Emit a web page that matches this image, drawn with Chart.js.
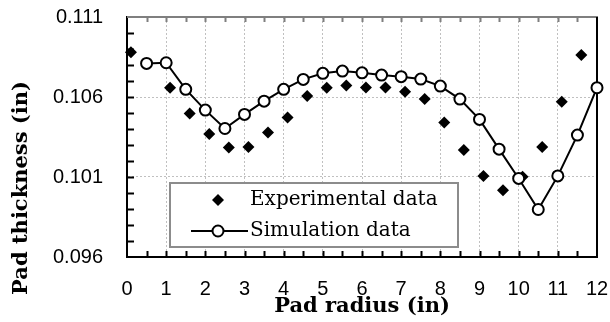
<!DOCTYPE html>
<html>
<head>
<meta charset="utf-8">
<script src="https://cdn.jsdelivr.net/npm/chart.js@4.4.1/dist/chart.umd.min.js"></script>
<style>
  html, body { margin: 0; padding: 0; background: #fff; }
  #wrap { width: 610px; height: 322px; }
</style>
</head>
<body>
<div id="wrap"><canvas id="padChart" width="610" height="322"></canvas></div>
<script>
// values
var expRadius = [0.1, 1.1, 1.6, 2.1, 2.6, 3.1, 3.6, 4.1, 4.6, 5.1, 5.6, 6.1, 6.6, 7.1, 7.6, 8.1, 8.6, 9.1, 9.6, 10.1, 10.6, 11.1, 11.6];
var expThickness = [0.10879, 0.10658, 0.10497, 0.10368, 0.10285, 0.10288, 0.10378, 0.10472, 0.10606, 0.10658, 0.10672, 0.10660, 0.10660, 0.10633, 0.10587, 0.10441, 0.10268, 0.10107, 0.10017, 0.10101, 0.10288, 0.10570, 0.10862];

var simRadius = [0.5, 1, 1.5, 2, 2.5, 3, 3.5, 4, 4.5, 5, 5.5, 6, 6.5, 7, 7.5, 8, 8.5, 9, 9.5, 10, 10.5, 11, 11.5, 12];
var simThickness = [0.10810, 0.10814, 0.10648, 0.10518, 0.10403, 0.10491, 0.10574, 0.10648, 0.10710, 0.10748, 0.10762, 0.10751, 0.10737, 0.10727, 0.10712, 0.10668, 0.10587, 0.10460, 0.10274, 0.10091, 0.09897, 0.10107, 0.10362, 0.10658];

var xTicks = [0, 1, 2, 3, 4, 5, 6, 7, 8, 9, 10, 11, 12];
var yTicks = [0.096, 0.101, 0.106, 0.111];
var seriesNames = ['Experimental data', 'Simulation data'];
var xTitle = 'Pad radius (in)';
var yTitle = 'Pad thickness (in)';

var serif = '"DejaVu Serif", "Liberation Serif", serif';
var sans = '"Liberation Sans", Arial, sans-serif';

function toPoints(xs, ys) {
  return xs.map(function (x, i) { return { x: x, y: ys[i] }; });
}

// top/right frame and the small inward ticks
var frameTicks = {
  id: 'frameTicks',
  beforeDatasetsDraw: function (chart) {
    var ctx = chart.ctx, a = chart.chartArea;
    var xs = chart.scales.x, ys = chart.scales.y;
    ctx.save();
    ctx.lineWidth = 2;
    ctx.strokeStyle = '#7f7f7f';
    ctx.beginPath(); ctx.moveTo(a.left, a.top); ctx.lineTo(a.right + 1, a.top); ctx.stroke();
    ctx.strokeStyle = '#000';
    ctx.beginPath(); ctx.moveTo(a.right, a.top); ctx.lineTo(a.right, a.bottom); ctx.stroke();

    for (var v = 0.5; v < 12; v += 0.5) {
      var px = Math.round(xs.getPixelForValue(v)) + 0.5;
      ctx.strokeStyle = '#000';
      ctx.beginPath(); ctx.moveTo(px, a.bottom); ctx.lineTo(px, a.bottom - 6); ctx.stroke();
      ctx.strokeStyle = '#7f7f7f';
      ctx.beginPath(); ctx.moveTo(px, a.top); ctx.lineTo(px, a.top + 5); ctx.stroke();
    }
    ctx.strokeStyle = '#000';
    for (var k = 1; k < 15; k++) {
      var py = Math.round(ys.getPixelForValue(0.096 + k * 0.001)) + 0.5;
      ctx.beginPath(); ctx.moveTo(a.left, py); ctx.lineTo(a.left + 7, py); ctx.stroke();
    }
    ctx.restore();
  },
  afterDraw: function (chart) {
    // y title sits lower than the plot centre in the original
    var ctx = chart.ctx;
    ctx.save();
    ctx.translate(22, 188);
    ctx.rotate(-Math.PI / 2);
    ctx.font = 'bold 21px ' + serif;
    ctx.fillStyle = '#000';
    ctx.textAlign = 'center';
    ctx.textBaseline = 'middle';
    ctx.fillText(yTitle, 0, 0);
    ctx.restore();
  }
};

// boxed legend inside the plot
var boxLegend = {
  id: 'boxLegend',
  afterDraw: function (chart) {
    var ctx = chart.ctx;
    var bx = 170, by = 183, bw = 288, bh = 64;
    ctx.save();
    ctx.fillStyle = '#fff';
    ctx.fillRect(bx, by, bw, bh);
    ctx.lineWidth = 2;
    ctx.strokeStyle = '#8c8c8c';
    ctx.strokeRect(bx, by, bw, bh);

    var rows = [200, 231];
    chart.data.datasets.forEach(function (ds, i) {
      var y = rows[i], mx = 218;
      if (ds.showLine) {
        ctx.strokeStyle = ds.borderColor;
        ctx.lineWidth = ds.borderWidth;
        ctx.beginPath(); ctx.moveTo(191, y); ctx.lineTo(248, y); ctx.stroke();
      }
      ctx.fillStyle = ds.pointBackgroundColor;
      ctx.strokeStyle = ds.pointBorderColor;
      ctx.lineWidth = ds.pointBorderWidth;
      Chart.helpers.drawPoint(ctx, {
        pointStyle: ds.pointStyle, radius: ds.pointRadius,
        borderWidth: ds.pointBorderWidth, rotation: 0
      }, mx, y);
      ctx.fillStyle = '#000';
      ctx.font = '20px ' + serif;
      ctx.textAlign = 'left';
      ctx.textBaseline = 'middle';
      ctx.fillText(ds.label, 250, y);
    });
    ctx.restore();
  }
};

new Chart(document.getElementById('padChart'), {
  type: 'scatter',
  data: {
    datasets: [{
      label: seriesNames[0],
      data: toPoints(expRadius, expThickness),
      showLine: false,
      pointStyle: 'rectRot',
      pointRadius: 6,
      pointBackgroundColor: '#000',
      pointBorderColor: '#000',
      pointBorderWidth: 0,
      order: 1,
      clip: false
    }, {
      label: seriesNames[1],
      data: toPoints(simRadius, simThickness),
      showLine: true,
      borderColor: '#000',
      borderWidth: 2,
      pointStyle: 'circle',
      pointRadius: 5.5,
      pointBackgroundColor: '#fff',
      pointBorderColor: '#000',
      pointBorderWidth: 2,
      order: 0,
      clip: false
    }]
  },
  options: {
    responsive: false,
    animation: false,
    devicePixelRatio: 1,
    layout: { padding: { top: 17, right: 13, left: 0, bottom: 0 } },
    plugins: {
      legend: { display: false },
      tooltip: { enabled: false }
    },
    scales: {
      x: {
        type: 'linear',
        min: 0,
        max: 12,
        afterBuildTicks: function (s) { s.ticks = xTicks.map(function (v) { return { value: v }; }); },
        afterFit: function (s) {
          s.height = 65;
          s.paddingLeft = 0; s.paddingRight = 0;
        },
        ticks: {
          padding: 20,
          color: '#000',
          font: { family: sans, size: 20 }
        },
        grid: { color: '#c0c0c0', lineWidth: 1, drawTicks: false },
        border: { color: '#000', width: 2, dash: [2, 2] },
        title: {
          display: true,
          text: xTitle,
          color: '#000',
          font: { family: serif, size: 21, weight: 'bold' },
          padding: { top: 0, bottom: 3 }
        }
      },
      y: {
        type: 'linear',
        min: 0.096,
        max: 0.111,
        afterBuildTicks: function (s) { s.ticks = yTicks.map(function (v) { return { value: v }; }); },
        afterFit: function (s) {
          s.width = 127;
          s.paddingTop = 0; s.paddingBottom = 0;
        },
        ticks: {
          padding: 24,
          color: '#000',
          font: { family: sans, size: 20 },
          callback: function (v) { return v.toFixed(3); }
        },
        grid: { color: '#c0c0c0', lineWidth: 1, drawTicks: false },
        border: { color: '#000', width: 2, dash: [2, 2] }
      }
    }
  },
  plugins: [frameTicks, boxLegend]
});
</script>
</body>
</html>
